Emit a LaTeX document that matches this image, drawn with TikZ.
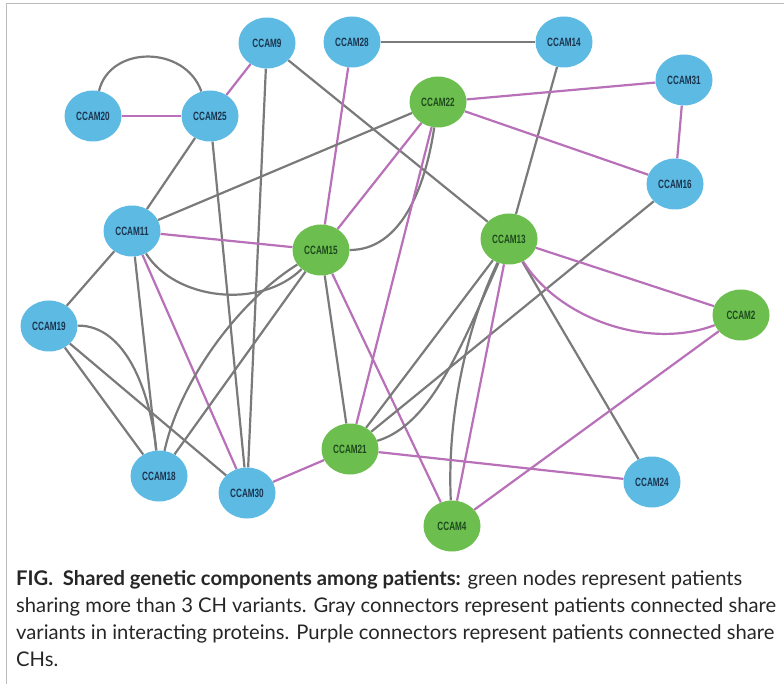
\documentclass[tikz,border=0pt]{standalone}
\usepackage{fontspec}
\usetikzlibrary{shapes.geometric,backgrounds}
\newfontfamily\nodefont[FakeStretch=0.68]{Liberation Sans}
\newfontfamily\capfont{Lato}
\definecolor{nblue}{HTML}{5DBAE2}
\definecolor{ngreen}{HTML}{6CBF4F}
\definecolor{tblue}{HTML}{1B3550}
\definecolor{tgreen}{HTML}{1E4A1E}
\definecolor{egray}{HTML}{7A7A7A}
\definecolor{epurp}{HTML}{B870B8}
\definecolor{frame}{HTML}{BBBBBB}
\tikzset{
  x=1pt, y=-1pt,
  bn/.style={ellipse, fill=nblue, minimum width=57pt, minimum height=51pt, inner sep=0pt, font=\nodefont\bfseries\fontsize{12}{12}\selectfont, text=tblue},
  gn/.style={bn, fill=ngreen, text=tgreen},
  ge/.style={draw=egray, line width=2.2pt},
  pe/.style={draw=epurp, line width=2.2pt},
  captxt/.style={anchor=base west, inner sep=0pt, font=\capfont\fontsize{20.2}{24}\selectfont, text=black!85}
}
\begin{document}
\begin{tikzpicture}
\useasboundingbox (0,0) rectangle (784,684);
\draw[frame, line width=1pt] (784,4) -- (6,4) -- (6,684);
% nodes
\node[bn] (n9)  at (267,43)  {CCAM9};
\node[bn] (n20) at (93,116)  {CCAM20};
\node[bn] (n25) at (210,116) {CCAM25};
\node[bn] (n28) at (352,42)  {CCAM28};
\node[bn] (n14) at (564,42)  {CCAM14};
\node[gn] (n22) at (438,102) {CCAM22};
\node[bn] (n31) at (684,80)  {CCAM31};
\node[bn] (n16) at (675,184) {CCAM16};
\node[bn] (n11) at (132,231) {CCAM11};
\node[gn] (n15) at (321,250) {CCAM15};
\node[gn] (n13) at (509,239) {CCAM13};
\node[gn] (n2)  at (741,315) {CCAM2};
\node[bn] (n19) at (49,326)  {CCAM19};
\node[bn] (n18) at (159,476) {CCAM18};
\node[bn] (n30) at (247,493) {CCAM30};
\node[gn] (n21) at (350,449) {CCAM21};
\node[bn] (n24) at (652,482) {CCAM24};
\node[gn] (n4)  at (452,526) {CCAM4};
% edges
\begin{pgfonlayer}{background}
\draw[pe] (n20) -- (n25);
\draw[ge] (n20) .. controls (110,45) and (185,45) .. (n25);
\draw[pe] (n25) -- (n9);
\draw[ge] (n28) -- (n14);
\draw[ge] (n9) -- (n13);
\draw[ge] (n9) -- (n30);
\draw[ge] (n25) -- (n30);
\draw[ge] (n25) -- (n11);
\draw[pe] (n28) -- (n15);
\draw[ge] (n14) -- (n13);
\draw[pe] (n22) -- (n31);
\draw[pe] (n22) -- (n16);
\draw[pe] (n31) -- (n16);
\draw[ge] (n22) -- (n11);
\draw[pe] (n22) -- (n15);
\draw[ge] (n15) .. controls (400,250) and (425,190) .. (n22);
\draw[pe] (n11) -- (n15);
\draw[ge] (n11) .. controls (175,300) and (260,310) .. (n15);
\draw[ge] (n11) -- (n19);
\draw[ge] (n11) -- (n18);
\draw[pe] (n11) -- (n30);
\draw[ge] (n19) -- (n18);
\draw[ge] (n19) -- (n30);
\draw[ge] (n19) .. controls (125,325) and (150,390) .. (n18);
\draw[ge] (n15) -- (n18);
\draw[ge] (n15) .. controls (240,300) and (180,380) .. (n18);
\draw[ge] (n15) -- (n21);
\draw[pe] (n15) -- (n4);
\draw[pe] (n22) -- (n21);
\draw[ge] (n13) -- (n21);
\draw[ge] (n13) .. controls (460,350) and (430,425) .. (n21);
\draw[ge] (n16) -- (n21);
\draw[ge] (n13) .. controls (465,330) and (447,420) .. (n4);
\draw[pe] (n13) -- (n4);
\draw[ge] (n13) -- (n24);
\draw[pe] (n13) -- (n2);
\draw[pe] (n13) .. controls (560,320) and (650,350) .. (n2);
\draw[pe] (n2) -- (n4);
\draw[pe] (n21) -- (n30);
\draw[pe] (n21) -- (n24);
\end{pgfonlayer}
% caption
\node[captxt] (c1) at (16,585) {\textbf{FIG.\ \ Shared genetic components among patients:} green nodes represent patients};
\node[captxt] (c2) at (16,612) {sharing more than 3 CH variants. Gray connectors represent patients connected share};
\node[captxt] (c3) at (16,639) {variants in interacting proteins. Purple connectors represent patients connected share};
\node[captxt] (c4) at (16,666) {CHs.};
\end{tikzpicture}
\end{document}
